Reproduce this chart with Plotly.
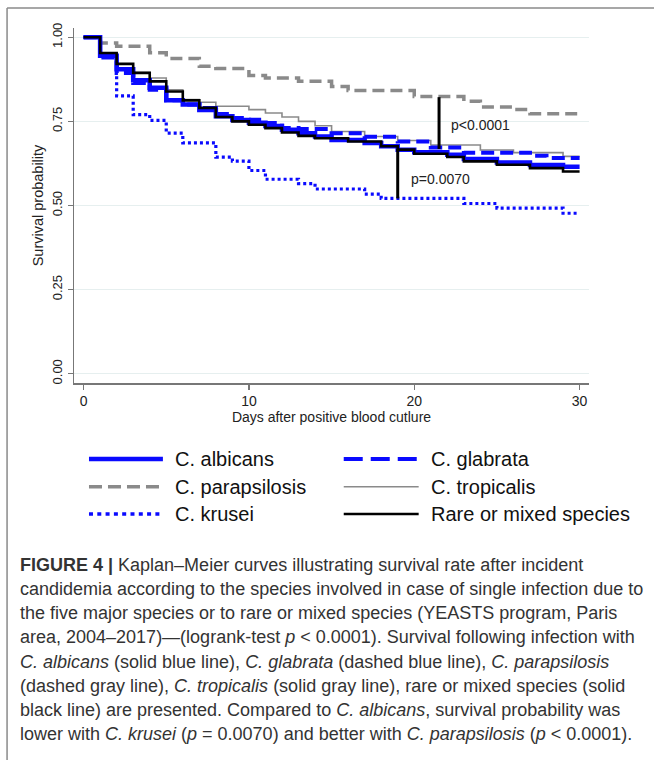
import plotly.graph_objects as go

# ---------------- data ----------------
alb_t = [0, 1, 2, 3, 4, 5, 6, 7, 8, 9, 10, 11, 12, 13, 14, 15, 17, 18, 19, 20, 22, 23, 25, 27, 29, 30]
alb_s = [1.0, 0.945, 0.905, 0.872, 0.850, 0.8125, 0.80, 0.784, 0.765, 0.754, 0.746, 0.736, 0.725,
         0.715, 0.705, 0.695, 0.686, 0.676, 0.666, 0.658, 0.651, 0.638, 0.628, 0.62, 0.615, 0.615]

gla_t = [0, 1, 2, 3, 4, 5, 6, 7, 8, 9, 10, 11, 12, 13, 15, 17, 19, 21, 23, 27, 28, 30]
gla_s = [1.0, 0.94, 0.894, 0.864, 0.844, 0.8125, 0.80, 0.79, 0.772, 0.76, 0.755, 0.745, 0.73,
         0.727, 0.715, 0.704, 0.69, 0.672, 0.657, 0.648, 0.641, 0.641]

para_t = [0, 1, 2, 4, 5, 7, 8, 10, 11, 13, 15, 16, 20, 23, 24, 26, 27, 30]
para_s = [1.0, 0.983, 0.973, 0.954, 0.937, 0.914, 0.907, 0.886, 0.879, 0.869, 0.854, 0.842,
          0.824, 0.81, 0.793, 0.785, 0.773, 0.773]

trop_t = [0, 1, 2, 3, 4, 5, 6, 7, 8, 10, 11, 12, 13, 14, 15, 17, 19, 21, 24, 26, 29, 30]
trop_s = [1.0, 0.95, 0.92, 0.895, 0.879, 0.844, 0.815, 0.807, 0.795, 0.785, 0.775, 0.763, 0.75,
          0.737, 0.72, 0.705, 0.693, 0.68, 0.665, 0.657, 0.646, 0.646]

kru_t = [0, 1, 2, 3, 4, 5, 6, 8, 9, 10, 11, 13, 14, 17, 18, 23, 25, 29, 30]
kru_s = [1.0, 0.945, 0.826, 0.77, 0.753, 0.715, 0.686, 0.644, 0.632, 0.604, 0.578, 0.565, 0.549,
         0.534, 0.521, 0.506, 0.492, 0.477, 0.477]

rare_t = [0, 1, 2, 3, 4, 5, 6, 7, 8, 9, 10, 11, 12, 13, 14, 16, 18, 19, 20, 22, 23, 25, 27, 29, 30]
rare_s = [1.0, 0.953, 0.921, 0.894, 0.869, 0.839, 0.8125, 0.79, 0.763, 0.75, 0.74, 0.73, 0.717,
          0.707, 0.70, 0.69, 0.676, 0.666, 0.654, 0.644, 0.631, 0.621, 0.611, 0.601, 0.601]

# p-value brackets: day, lower, upper survival
p1_day = 21.5
p1_range = [0.668, 0.822]
p1_text = "p&lt;0.0001"
p1_label_pos = [22.1, 0.740]
p2_day = 19.0
p2_range = [0.521, 0.668]
p2_text = "p=0.0070"
p2_label_pos = [19.7, 0.579]

x_ticks = [0, 10, 20, 30]
y_ticks = [0.0, 0.25, 0.50, 0.75, 1.00]
y_ticklabels = ["0.00", "0.25", "0.50", "0.75", "1.00"]

x_title = "Days after positive blood cutlure"
y_title = "Survival probability"

caption_lines = [
    "<b>FIGURE 4 |</b> Kaplan–Meier curves illustrating survival rate after incident",
    "candidemia according to the species involved in case of single infection due to",
    "the five major species or to rare or mixed species (YEASTS program, Paris",
    "area, 2004–2017)—(logrank-test <i>p</i> &lt; 0.0001). Survival following infection with",
    "<i>C. albicans</i> (solid blue line), <i>C. glabrata</i> (dashed blue line), <i>C. parapsilosis</i>",
    "(dashed gray line), <i>C. tropicalis</i> (solid gray line), rare or mixed species (solid",
    "black line) are presented. Compared to <i>C. albicans</i>, survival probability was",
    "lower with <i>C. krusei</i> (<i>p</i> = 0.0070) and better with <i>C. parapsilosis</i> (<i>p</i> &lt; 0.0001).",
]

# ---------------- styles ----------------
BLUE = "#0a0aff"
GRAY = "#8a8a8a"
styles = {
    "C. albicans": dict(color=BLUE, width=4.5, dash="solid"),
    "C. glabrata": dict(color=BLUE, width=4, dash="13px,6px"),
    "C. parapsilosis": dict(color=GRAY, width=3.5, dash="12px,6px"),
    "C. tropicalis": dict(color=GRAY, width=1.6, dash="solid"),
    "C. krusei": dict(color=BLUE, width=3.2, dash="3px,3px"),
    "Rare or mixed species": dict(color="#000000", width=2.6, dash="solid"),
}
legend_styles = dict(styles)
legend_styles["C. glabrata"] = dict(color=BLUE, width=4, dash="19px,8px")
legend_styles["C. parapsilosis"] = dict(color=GRAY, width=3.5, dash="13px,6px")
legend_styles["C. krusei"] = dict(color=BLUE, width=3.5, dash="4px,4.3px")

series = {
    "C. albicans": (alb_t, alb_s),
    "C. glabrata": (gla_t, gla_s),
    "C. parapsilosis": (para_t, para_s),
    "C. tropicalis": (trop_t, trop_s),
    "C. krusei": (kru_t, kru_s),
    "Rare or mixed species": (rare_t, rare_s),
}
draw_order = ["C. parapsilosis", "C. tropicalis", "C. krusei", "C. albicans", "C. glabrata",
              "Rare or mixed species"]

W, H = 654, 760
L, R, T, B = 74, 589.5, 28, 383


def pxx(x):
    return (x - L) / (R - L)


def pxy(y):
    return (B - y) / (B - T)


fig = go.Figure()
for name in draw_order:
    t, s = series[name]
    fig.add_trace(go.Scatter(x=t, y=s, mode="lines", name=name, showlegend=False,
                             line=dict(shape="hv", **styles[name]), hoverinfo="skip"))

for d, rng in [(p1_day, p1_range), (p2_day, p2_range)]:
    fig.add_trace(go.Scatter(x=[d, d], y=rng, mode="lines", showlegend=False,
                             line=dict(color="black", width=3), hoverinfo="skip"))

annotations = []
for txt, pos in [(p1_text, p1_label_pos), (p2_text, p2_label_pos)]:
    annotations.append(dict(x=pos[0], y=pos[1], xref="x", yref="y", text=txt, showarrow=False,
                            xanchor="left", yanchor="middle",
                            font=dict(size=14, color="#222", family="Liberation Sans")))

# legend (manual, two columns)
leg_layout = [
    ("C. albicans", 0, 0), ("C. glabrata", 1, 0),
    ("C. parapsilosis", 0, 1), ("C. tropicalis", 1, 1),
    ("C. krusei", 0, 2), ("Rare or mixed species", 1, 2),
]
col_x = [(89, 163, 173), (344, 419, 429)]
row_y = [459, 486.7, 514]
shapes = []
for name, c, r in leg_layout:
    x0, x1, xt = col_x[c]
    y = row_y[r]
    shapes.append(dict(type="line", xref="paper", yref="paper", x0=pxx(x0), x1=pxx(x1),
                       y0=pxy(y), y1=pxy(y), line=legend_styles[name]))
    annotations.append(dict(x=pxx(xt), y=pxy(y), xref="paper", yref="paper", text=name,
                            showarrow=False, xanchor="left", yanchor="middle",
                            font=dict(size=20, color="#111", family="Liberation Sans")))

# frame
shapes.append(dict(type="line", xref="paper", yref="paper", x0=pxx(7), x1=pxx(660),
                   y0=pxy(8), y1=pxy(8), line=dict(color="#8a8a8a", width=1.5)))
shapes.append(dict(type="line", xref="paper", yref="paper", x0=pxx(7), x1=pxx(7),
                   y0=pxy(8), y1=pxy(770), line=dict(color="#8a8a8a", width=1.5)))

# caption
cap_y = [565, 589, 613, 637, 661.5, 686, 710, 734]
for line, y in zip(caption_lines, cap_y):
    annotations.append(dict(x=pxx(18), y=pxy(y), xref="paper", yref="paper", text=line,
                            showarrow=False, xanchor="left", yanchor="middle", align="left",
                            font=dict(size=18, color="#333", family="Liberation Sans")))

fig.update_layout(
    width=W, height=H,
    margin=dict(l=L, r=W - R, t=T, b=H - B, pad=0),
    paper_bgcolor="white", plot_bgcolor="white",
    font=dict(family="Liberation Sans", color="#222"),
    xaxis=dict(range=[-0.58, 30.57], tickvals=x_ticks, ticks="outside", ticklen=5,
               tickcolor="#777", tickwidth=1.2, showline=True, linecolor="#777", linewidth=1.5,
               showgrid=False, zeroline=False, tickfont=dict(size=14, color="#222"),
               title=dict(text=x_title, font=dict(size=14, color="#222"), standoff=2)),
    yaxis=dict(range=[-0.0275, 1.0275], tickvals=y_ticks, ticktext=y_ticklabels, ticks="outside",
               ticklen=5, tickcolor="#777", tickwidth=1.2, tickangle=-90,
               showline=True, linecolor="#777", linewidth=1.5,
               showgrid=True, gridcolor="#e6efef", gridwidth=1, zeroline=False,
               tickfont=dict(size=13, color="#222"),
               title=dict(text=y_title, font=dict(size=14.5, color="#222"), standoff=3)),
    shapes=shapes,
    annotations=annotations,
)

fig.write_html("out.html", config={"displayModeBar": False, "staticPlot": True},
               post_script="document.body.style.margin='0px';document.body.style.overflow='hidden';")
